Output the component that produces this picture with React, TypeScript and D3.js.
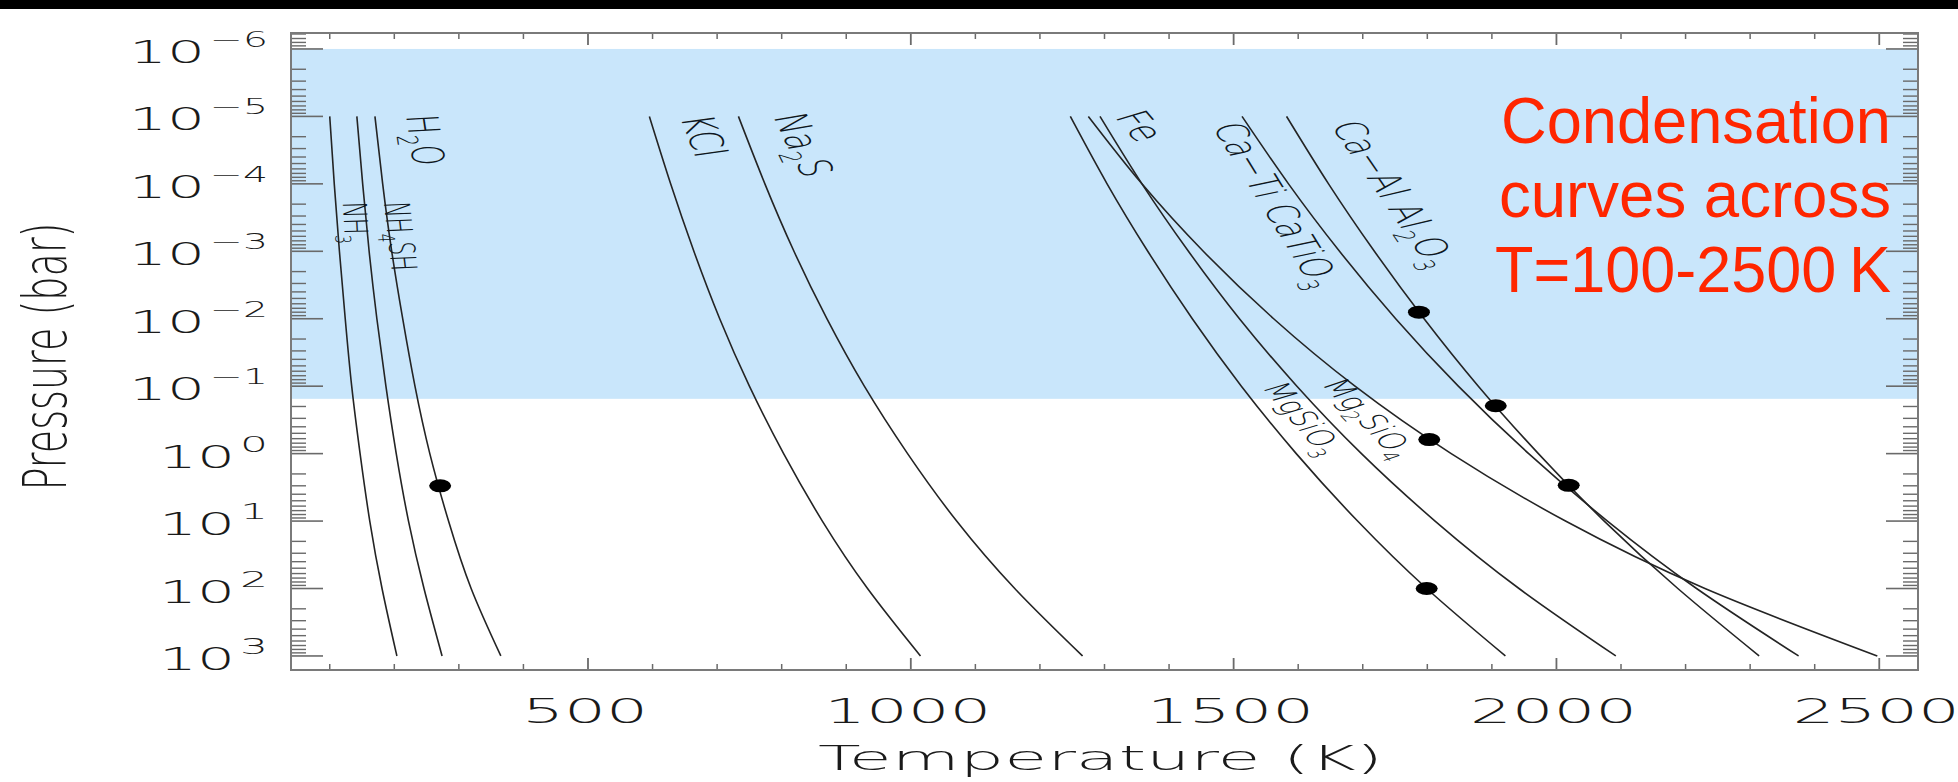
import React from "react";
import * as d3 from "d3";

// ---------------- data ----------------
const pressureLevels = [1e-5, 1e-4, 1e-3, 1e-2, 1e-1, 1, 10, 100, 1000];

const tNH3 = [100, 107, 115, 124, 134, 147, 162, 181, 204];
const tNH4SH = [142, 151, 161, 173, 187, 203, 222, 246, 274];
const tH2O = [170, 182, 196, 213, 232, 255, 284, 319, 365];
const tKCl = [595, 628, 664, 704, 750, 803, 863, 933, 1015];
const tNa2S = [733, 774, 819, 870, 928, 995, 1071, 1161, 1266];
const tMgSiO3 = [1247, 1304, 1367, 1436, 1512, 1597, 1692, 1799, 1921];
const tMg2SiO4 = [1293, 1358, 1430, 1509, 1598, 1698, 1812, 1942, 2092];
const tFe = [1275, 1358, 1453, 1562, 1688, 1837, 2014, 2230, 2497];
const tCaTiO3 = [1513, 1585, 1664, 1751, 1848, 1957, 2079, 2217, 2375];
const tAl2O3 = [1582, 1647, 1718, 1795, 1879, 1972, 2074, 2188, 2314];

const curveTemps = [tNH3, tNH4SH, tH2O, tKCl, tNa2S, tMgSiO3, tMg2SiO4, tFe, tCaTiO3, tAl2O3];

const dotT = [271, 1787, 1906, 2019, 1803, 1799];
const dotP = [3.0, 0.008, 0.195, 2.95, 0.62, 100];

const tempDomain = [40, 2560];
const pressureDomain = [5.8e-7, 1615];
const shadedPressure = [1e-6, 0.154];

const xMajorTicks = [500, 1000, 1500, 2000, 2500];
const xTickLabels = ["500", "1000", "1500", "2000", "2500"];
const xMinorTicks = d3.range(100, 2501, 100);
const yDecades = [-6, -5, -4, -3, -2, -1, 0, 1, 2, 3];
const ySupLabels = ["\u22126", "\u22125", "\u22124", "\u22123", "\u22122", "\u22121", "0", "1", "2", "3"];

const labelParts: [string, boolean][][] = [
  [["NH", false], ["3", true]],
  [["NH", false], ["4", true], ["SH", false]],
  [["H", false], ["2", true], ["O", false]],
  [["KCl", false]],
  [["Na", false], ["2", true], ["S", false]],
  [["Fe", false]],
  [["Ca\u2212Ti CaTiO", false], ["3", true]],
  [["Ca\u2212Al Al", false], ["2", true], ["O", false], ["3", true]],
  [["Mg", false], ["2", true], ["SiO", false], ["4", true]],
  [["MgSiO", false], ["3", true]],
];
const labelT = [122, 190, 224, 655, 810, 1333, 1545, 1727, 1693, 1590];
const labelP = [3.8e-4, 6.1e-4, 2.3e-5, 2.1e-5, 2.9e-5, 1.6e-5, 2.3e-4, 1.6e-4, 0.34, 0.34];
const labelStyle = [
  { rot: 88, fs: 22, sx: 1.5 },
  { rot: 86, fs: 21, sx: 1.7 },
  { rot: 85, fs: 26, sx: 1.7 },
  { rot: 77, fs: 27, sx: 1.7 },
  { rot: 74, fs: 27, sx: 1.7 },
  { rot: 63, fs: 27, sx: 1.7 },
  { rot: 70, fs: 26, sx: 1.7 },
  { rot: 68, fs: 26, sx: 1.7 },
  { rot: 60, fs: 22, sx: 1.7 },
  { rot: 63, fs: 22, sx: 1.7 },
];

const noteLines = ["Condensation", "curves across", "T=100-2500\u2009K"];

// ---------------- chart ----------------
const W = 1958;
const H = 782;
const IDL = "'DejaVu Sans', sans-serif";
const IDL_WEIGHT = 200;

export default function App() {
  const left = 291, right = 1918, top = 33, bottom = 670;
  const x = d3.scaleLinear().domain(tempDomain).range([left, right]);
  const y = d3.scaleLog().domain(pressureDomain).range([top, bottom]);

  const line = d3
    .line<[number, number]>()
    .x((d) => x(d[0]))
    .y((d) => y(d[1]))
    .curve(d3.curveNatural);

  const yMinor: number[] = [];
  for (let k = -7; k <= 3; k++) {
    for (let m = 2; m <= 9; m++) {
      const v = m * Math.pow(10, k);
      if (v > pressureDomain[0] && v < pressureDomain[1]) yMinor.push(v);
    }
  }

  const tickColor = "#6a6a6a";
  const lineColor = "#242424";

  return (
    <div style={{ position: "absolute", left: 0, top: 0, width: W, height: H, background: "#fff" }}>
      <svg width={W} height={H} style={{ display: "block" }}>
        <rect x={0} y={0} width={W} height={H} fill="#fff" />
        <rect x={0} y={0} width={W} height={9} fill="#000" />

        {/* shaded band */}
        <rect
          x={left}
          y={y(shadedPressure[0])}
          width={right - left}
          height={y(shadedPressure[1]) - y(shadedPressure[0])}
          fill="#c9e6fb"
        />

        {/* y ticks left & right */}
        {yMinor.map((v, i) => (
          <g key={"ym" + i} stroke={tickColor} strokeWidth={1.4}>
            <line x1={left} x2={left + 15} y1={y(v)} y2={y(v)} />
            <line x1={right} x2={right - 15} y1={y(v)} y2={y(v)} />
          </g>
        ))}
        {yDecades.map((e) => (
          <g key={"yM" + e} stroke={tickColor} strokeWidth={1.6}>
            <line x1={left} x2={left + 32} y1={y(Math.pow(10, e))} y2={y(Math.pow(10, e))} />
            <line x1={right} x2={right - 32} y1={y(Math.pow(10, e))} y2={y(Math.pow(10, e))} />
          </g>
        ))}

        {/* x ticks bottom & top */}
        {xMinorTicks.map((t) => {
          const major = t % 500 === 0;
          const len = major ? 12 : 6;
          return (
            <g key={"xt" + t} stroke={tickColor} strokeWidth={major ? 1.8 : 1.5}>
              <line x1={x(t)} x2={x(t)} y1={bottom} y2={bottom - len} />
              <line x1={x(t)} x2={x(t)} y1={top} y2={top + len} />
            </g>
          );
        })}

        {/* frame */}
        <rect x={left} y={top} width={right - left} height={bottom - top} fill="none" stroke="#7a7a7a" strokeWidth={2} />

        {/* curves */}
        {curveTemps.map((temps, i) => (
          <path
            key={"c" + i}
            d={line(temps.map((t, j) => [t, pressureLevels[j]] as [number, number])) || ""}
            fill="none"
            stroke={lineColor}
            strokeWidth={1.6}
          />
        ))}

        {/* dots */}
        {dotT.map((t, i) => (
          <ellipse key={"d" + i} cx={x(t)} cy={y(dotP[i])} rx={11} ry={6.5} fill="#000" />
        ))}

        {/* curve labels */}
        {labelParts.map((parts, i) => {
          const st = labelStyle[i];
          const fs = st.fs;
          const shift = fs * 0.28;
          let prevSub = false;
          return (
            <g
              key={"l" + i}
              transform={`translate(${x(labelT[i])},${y(labelP[i])}) scale(${st.sx},1) rotate(${st.rot})`}
            >
              <text
                textAnchor="middle"
                dy={fs * 0.36}
                fontFamily={IDL}
                fontWeight={IDL_WEIGHT}
                fontSize={fs}
                fill="#0e1620"
              >
                {parts.map(([s, sub], j) => {
                  let dy = 0;
                  if (sub && !prevSub) dy = shift;
                  if (!sub && prevSub) dy = -shift;
                  prevSub = sub;
                  return (
                    <tspan key={j} dy={dy} fontSize={sub ? fs * 0.65 : fs}>
                      {s}
                    </tspan>
                  );
                })}
              </text>
            </g>
          );
        })}

        {/* y tick labels */}
        {yDecades.map((e, i) => {
          const ty = y(Math.pow(10, e));
          const sup = ySupLabels[i];
          const supLen = sup.length > 1 ? 58 : 28;
          const supStart = 268 - supLen;
          const tenStart = supStart - 5 - 76;
          return (
            <g key={"yl" + e} fontFamily={IDL} fontWeight={IDL_WEIGHT} fill="#1a1a1a">
              <text x={tenStart} y={ty + 14} fontSize={31.5} textLength={76} lengthAdjust="spacingAndGlyphs">
                10
              </text>
              <text x={supStart} y={ty - 2} fontSize={21} textLength={supLen} lengthAdjust="spacingAndGlyphs">
                {sup}
              </text>
            </g>
          );
        })}

        {/* x tick labels */}
        {xMajorTicks.map((t, i) => (
          <text
            key={"xl" + t}
            x={x(t) - 3}
            y={723}
            textAnchor="middle"
            fontFamily={IDL}
            fontWeight={IDL_WEIGHT}
            fontSize={33}
            fill="#1a1a1a"
            textLength={xTickLabels[i].length === 3 ? 126 : 167}
            lengthAdjust="spacingAndGlyphs"
          >
            {xTickLabels[i]}
          </text>
        ))}

        {/* axis titles */}
        <text
          x={(left + right) / 2 - 4}
          y={770}
          textAnchor="middle"
          fontFamily={IDL}
          fontWeight={IDL_WEIGHT}
          fontSize={34}
          fill="#1a1a1a"
          textLength={565}
          lengthAdjust="spacingAndGlyphs"
        >
          Temperature (K)
        </text>
        <g transform={`translate(66,${(top + bottom) / 2 + 5}) scale(1.8,1) rotate(-90)`}>
          <text
            textAnchor="middle"
            fontFamily={IDL}
            fontWeight={IDL_WEIGHT}
            fontSize={34}
            fill="#1a1a1a"
            textLength={268}
            lengthAdjust="spacingAndGlyphs"
          >
            Pressure (bar)
          </text>
        </g>

        {/* red note */}
        {noteLines.map((s, i) => (
          <text
            key={"n" + i}
            x={1891}
            y={143 + i * 74.3}
            textAnchor="end"
            fontFamily="'Liberation Sans', Arial, sans-serif"
            fontSize={65}
            fill="#ff2600"
            textLength={[390, 392, 396][i]}
            lengthAdjust="spacingAndGlyphs"
          >
            {s}
          </text>
        ))}
      </svg>
    </div>
  );
}
